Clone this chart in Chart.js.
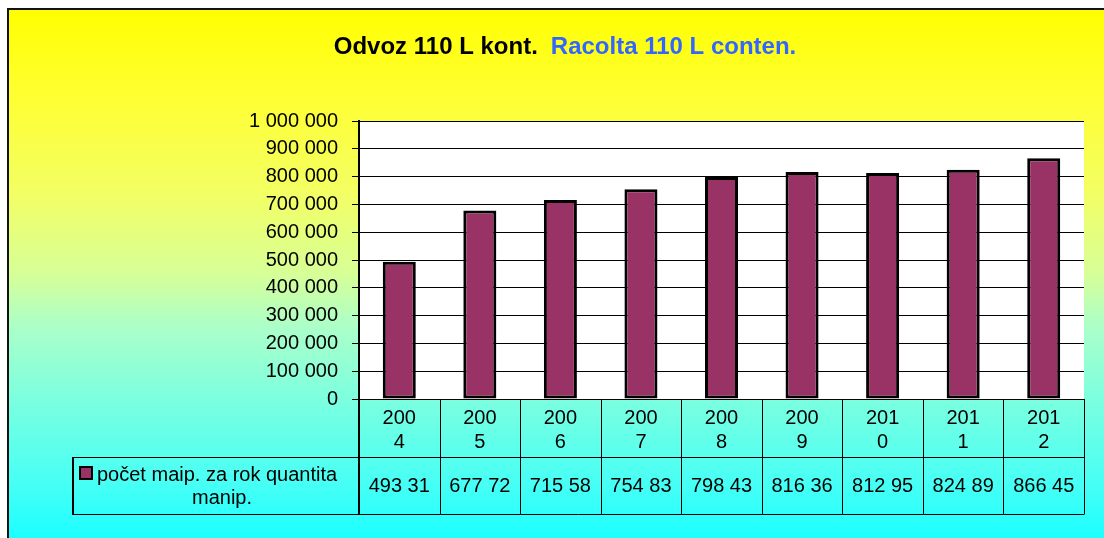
<!DOCTYPE html>
<html>
<head>
<meta charset="utf-8">
<title>Odvoz 110 L kont.</title>
<script src="https://cdn.jsdelivr.net/npm/chart.js@4.4.0/dist/chart.umd.min.js"></script>
<style>
  html, body { margin: 0; padding: 0; background: #fff; }
  #wrap { width: 1104px; height: 538px; }
</style>
</head>
<body>
<div id="wrap"><canvas id="chart" width="1104" height="538"></canvas></div>
<script>
// data
const years = ['2004', '2005', '2006', '2007', '2008', '2009', '2010', '2011', '2012'];
const pocetManip = [493310, 677720, 715580, 754830, 798430, 816360, 812950, 824890, 866450];
const seriesLines = ['počet maip. za rok quantita', 'manip.'];
const yTicks = [0, 100000, 200000, 300000, 400000, 500000, 600000, 700000, 800000, 900000, 1000000];

const FONT = "'Liberation Sans', Arial, sans-serif";
const BAR = '#993366';

// 1 000 000 style
const spaced = v => String(v).replace(/\B(?=(\d{3})+(?!\d))/g, ' ');

const excelLook = {
  id: 'excelLook',
  beforeDraw(chart) {
    const ctx = chart.ctx;
    const { width, height, chartArea } = chart;
    ctx.save();
    ctx.fillStyle = '#fff';
    ctx.fillRect(0, 0, width, height);
    // yellow -> cyan fill, paler in the middle like the Excel one
    const g = ctx.createLinearGradient(0, 8, 0, height);
    g.addColorStop(0, 'rgb(255,255,0)');
    g.addColorStop(0.15, 'rgb(255,255,45)');
    g.addColorStop(0.35, 'rgb(243,255,100)');
    g.addColorStop(0.5, 'rgb(215,255,150)');
    g.addColorStop(0.6, 'rgb(172,255,200)');
    g.addColorStop(0.75, 'rgb(120,255,225)');
    g.addColorStop(0.9, 'rgb(70,255,245)');
    g.addColorStop(1, 'rgb(28,255,255)');
    ctx.fillStyle = g;
    ctx.fillRect(7, 8, width - 7, height - 8);
    ctx.strokeStyle = '#111';
    ctx.lineWidth = 2;
    ctx.beginPath();
    ctx.moveTo(7, 9); ctx.lineTo(width, 9);
    ctx.moveTo(8, 8); ctx.lineTo(8, height);
    ctx.stroke();
    // plot area
    ctx.fillStyle = '#fff';
    ctx.fillRect(chartArea.left, chartArea.top, chartArea.right - chartArea.left, chartArea.bottom - chartArea.top);
    ctx.restore();
  },
  afterDraw(chart) {
    const ctx = chart.ctx;
    const x = chart.scales.x;
    const area = chart.chartArea;
    ctx.save();

    // title in two colours
    ctx.font = 'bold 24px ' + FONT;
    ctx.textBaseline = 'middle';
    ctx.textAlign = 'left';
    const t1 = 'Odvoz 110 L kont.';
    const t2 = 'Racolta 110 L conten.';
    const w1 = ctx.measureText(t1).width;
    const w2 = ctx.measureText(t2).width;
    const gap = 13;
    let tx = 565 - (w1 + gap + w2) / 2;
    ctx.fillStyle = '#000';
    ctx.fillText(t1, tx, 47);
    ctx.fillStyle = '#3366ff';
    ctx.fillText(t2, tx + w1 + gap, 47);

    // data table
    const top = area.bottom;
    const mid = 457;
    const bot = 514;
    const legLeft = 72;
    const colW = x.getPixelForValue(1) - x.getPixelForValue(0);

    ctx.strokeStyle = '#000';
    ctx.lineWidth = 1;
    ctx.beginPath();
    for (let i = 1; i <= years.length; i++) {
      const bx = Math.round(x.getPixelForValue(i) - colW / 2) + 0.5;
      ctx.moveTo(bx, top); ctx.lineTo(bx, bot);
    }
    ctx.moveTo(legLeft, mid + 0.5); ctx.lineTo(area.right, mid + 0.5);
    ctx.moveTo(legLeft, bot + 0.5); ctx.lineTo(area.right + 0.5, bot + 0.5);
    ctx.stroke();

    ctx.lineWidth = 2;
    ctx.beginPath();
    ctx.moveTo(area.left, top); ctx.lineTo(area.left, bot + 1);
    ctx.moveTo(legLeft + 1, mid); ctx.lineTo(legLeft + 1, bot + 1);
    ctx.stroke();

    ctx.fillStyle = '#000';
    ctx.font = '20px ' + FONT;
    ctx.textAlign = 'center';
    years.forEach((yr, i) => {
      const cx = x.getPixelForValue(i);
      ctx.fillText(yr.slice(0, 3), cx, 418);
      ctx.fillText(yr.slice(3), cx, 442);
      ctx.fillText(spaced(pocetManip[i]).slice(0, 6), cx, 486);
    });

    // legend cell
    ctx.fillStyle = BAR;
    ctx.fillRect(80, 467, 12, 12);
    ctx.strokeStyle = '#000';
    ctx.lineWidth = 2;
    ctx.strokeRect(80, 467, 12, 12);
    ctx.fillStyle = '#000';
    ctx.textAlign = 'left';
    ctx.fillText(seriesLines[0], 97, 475);
    ctx.textAlign = 'center';
    ctx.fillText(seriesLines[1], 222, 498);

    ctx.restore();
  }
};

new Chart(document.getElementById('chart'), {
  type: 'bar',
  data: {
    labels: years,
    datasets: [{
      label: seriesLines.join(' '),
      data: pocetManip,
      backgroundColor: BAR,
      borderColor: '#000',
      borderWidth: 3,
      borderSkipped: false,
      barPercentage: 0.41,
      categoryPercentage: 1
    }]
  },
  options: {
    responsive: false,
    devicePixelRatio: 1,
    animation: false,
    layout: { padding: { top: 121, right: 20, bottom: 24, left: 0 } },
    plugins: {
      legend: { display: false },
      title: { display: false },
      tooltip: { enabled: false }
    },
    scales: {
      x: {
        ticks: { display: false },
        grid: { display: false },
        border: { display: true, color: '#000', width: 1 },
        afterFit: s => { s.height = 115; }
      },
      y: {
        min: 0,
        max: 1000000,
        afterBuildTicks: s => { s.ticks = yTicks.map(v => ({ value: v })); },
        ticks: {
          color: '#000',
          padding: 14,
          font: { family: FONT, size: 20 },
          callback: v => spaced(v)
        },
        grid: { color: '#000', lineWidth: 1, tickLength: 7 },
        border: { display: true, color: '#000', width: 2 },
        afterFit: s => { s.width = 359; }
      }
    }
  },
  plugins: [excelLook]
});
</script>
</body>
</html>
